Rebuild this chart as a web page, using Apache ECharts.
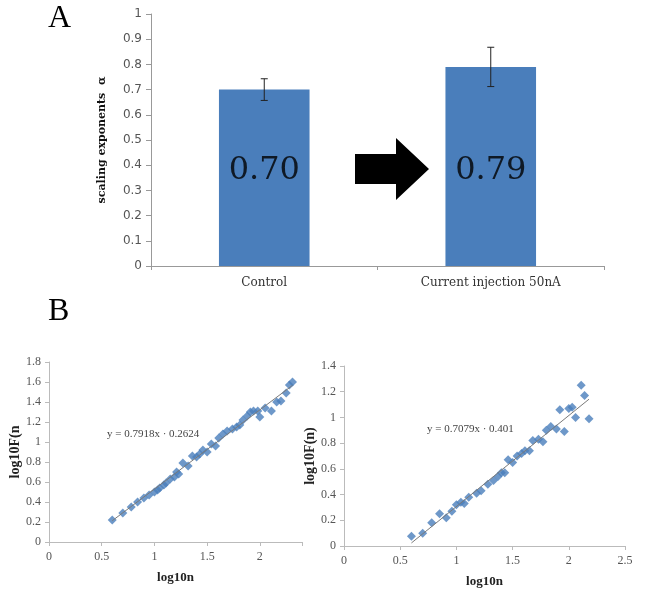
<!DOCTYPE html>
<html>
<head>
<meta charset="utf-8">
<script src="https://cdn.jsdelivr.net/npm/echarts@6/dist/echarts.min.js"></script>
<style>
html, body { margin: 0; padding: 0; background: #fff; }
#main { width: 646px; height: 589px; }
</style>
</head>
<body>
<div id="main"></div>
<script>
// Panel A
const groups = ['Control', 'Current injection 50nA'];
const alphaMean = [0.70, 0.79];
const alphaErr = [0.043, 0.078];

// Panel B, left plot (current injection)
const injLogN = [0.60, 0.70, 0.78, 0.84, 0.90, 0.95, 1.00, 1.03, 1.05, 1.09, 1.11, 1.15, 1.19, 1.21, 1.23,
  1.27, 1.32, 1.36, 1.40, 1.43, 1.46, 1.50, 1.54, 1.58, 1.61, 1.65, 1.69, 1.74, 1.78, 1.81, 1.84,
  1.88, 1.91, 1.94, 1.98, 2.00, 2.05, 2.11, 2.16, 2.20, 2.25, 2.28, 2.31];
const injLogF = [0.22, 0.29, 0.35, 0.40, 0.44, 0.47, 0.50, 0.52, 0.54, 0.57, 0.59, 0.63, 0.65, 0.70, 0.68,
  0.79, 0.76, 0.86, 0.85, 0.88, 0.92, 0.90, 0.98, 0.96, 1.04, 1.08, 1.11, 1.13, 1.15, 1.17, 1.22,
  1.26, 1.30, 1.31, 1.31, 1.25, 1.34, 1.31, 1.40, 1.41, 1.49, 1.57, 1.60];
const injFit = [0.7918, -0.2624];
const injEq = 'y = 0.7918x · 0.2624';

// Panel B, right plot (control)
const ctrlLogN = [0.60, 0.70, 0.78, 0.85, 0.91, 0.96, 1.00, 1.04, 1.07, 1.11, 1.18, 1.22, 1.28, 1.33, 1.37,
  1.40, 1.43, 1.46, 1.50, 1.54, 1.58, 1.61, 1.65, 1.68, 1.73, 1.77, 1.80, 1.84, 1.89, 1.92, 1.96,
  2.00, 2.03, 2.06, 2.11, 2.14, 2.18];
const ctrlLogF = [0.075, 0.10, 0.18, 0.25, 0.22, 0.27, 0.32, 0.34, 0.33, 0.38, 0.41, 0.43, 0.48, 0.51, 0.54,
  0.57, 0.57, 0.67, 0.65, 0.70, 0.72, 0.74, 0.74, 0.82, 0.83, 0.81, 0.90, 0.93, 0.91, 1.06, 0.89,
  1.07, 1.08, 1.00, 1.25, 1.17, 0.99];
const ctrlFit = [0.7079, -0.401];
const ctrlEq = 'y = 0.7079x · 0.401';

const BLUE = '#4a7ebb';
const SERIF = '"Liberation Serif", serif';
const WIDE_SERIF = '"DejaVu Serif", serif';

function pairs(xs, ys) {
  return xs.map((x, i) => [x, ys[i]]);
}

function fitLine(xs, fit) {
  const x0 = Math.min(...xs), x1 = Math.max(...xs);
  return [[x0, fit[0] * x0 + fit[1]], [x1, fit[0] * x1 + fit[1]]];
}

function bAxisX(gridIndex, max, showMax) {
  return {
    type: 'value', gridIndex, min: 0, max, interval: 0.5,
    name: 'log10n', nameLocation: 'middle', nameGap: 29,
    nameTextStyle: { fontFamily: SERIF, fontWeight: 'bold', fontSize: 13, color: '#222' },
    axisLine: { lineStyle: { color: '#bbb' } },
    axisTick: { show: true, length: 4, lineStyle: { color: '#bbb' } },
    axisLabel: {
      fontFamily: SERIF, fontSize: 12, color: '#555', margin: 9,
      formatter: v => (showMax || Math.abs(v / 0.5 - Math.round(v / 0.5)) < 1e-6) ? String(v) : ''
    },
    splitLine: { show: false }
  };
}

function bAxisY(gridIndex, max, title) {
  return {
    type: 'value', gridIndex, min: 0, max, interval: 0.2,
    name: title, nameLocation: 'middle', nameGap: 26, nameRotate: 90,
    nameTextStyle: { fontFamily: SERIF, fontWeight: 'bold', fontSize: 14, color: '#222' },
    axisLine: { show: true, lineStyle: { color: '#bbb' } },
    axisTick: { show: true, length: 4, lineStyle: { color: '#bbb' } },
    axisLabel: { fontFamily: SERIF, fontSize: 12, color: '#555', margin: 8,
      formatter: v => String(Math.round(v * 10) / 10) },
    splitLine: { show: false }
  };
}

const chart = echarts.init(document.getElementById('main'));

const option = {
  backgroundColor: '#fff',
  animation: false,
  grid: [
    { left: 151, top: 14, width: 453, height: 252 },
    { left: 49, top: 362, width: 253, height: 180 },
    { left: 344, top: 366, width: 281, height: 180 }
  ],
  xAxis: [
    {
      type: 'category', gridIndex: 0, data: groups,
      axisLine: { lineStyle: { color: '#999' } },
      axisTick: { show: true, length: 4, lineStyle: { color: '#999' } },
      axisLabel: { fontFamily: WIDE_SERIF, fontSize: 12, color: '#333', margin: 11 }
    },
    bAxisX(1, 2.4, false),
    bAxisX(2, 2.5, true)
  ],
  yAxis: [
    {
      type: 'value', gridIndex: 0, min: 0, max: 1, interval: 0.1,
      name: 'scaling exponents  α', nameLocation: 'middle', nameGap: 43, nameRotate: 90,
      nameTextStyle: { fontFamily: WIDE_SERIF, fontWeight: 'bold', fontSize: 11, color: '#111' },
      axisLine: { show: true, lineStyle: { color: '#999' } },
      axisTick: { show: true, length: 5, lineStyle: { color: '#999' } },
      axisLabel: { fontFamily: '"DejaVu Sans", sans-serif', fontSize: 12, color: '#555', margin: 9,
        formatter: v => String(Math.round(v * 10) / 10) },
      splitLine: { show: false }
    },
    bAxisY(1, 1.8, 'log10F(n'),
    bAxisY(2, 1.4, 'log10F(n)')
  ],
  series: [
    {
      type: 'bar', xAxisIndex: 0, yAxisIndex: 0,
      data: alphaMean, barWidth: '40%',
      itemStyle: { color: BLUE }
    },
    {
      // value labels inside the bars
      type: 'scatter', xAxisIndex: 0, yAxisIndex: 0,
      symbolSize: 0, silent: true, z: 5,
      data: alphaMean.map((v, i) => ({ value: [i, 0.38], text: v.toFixed(2) })),
      label: {
        show: true, position: 'inside', formatter: p => p.data.text,
        fontFamily: WIDE_SERIF, fontSize: 32, color: '#000'
      }
    },
    {
      type: 'custom', xAxisIndex: 0, yAxisIndex: 0, z: 6,
      data: alphaMean.map((m, i) => [i, m, alphaErr[i]]),
      renderItem: function (params, api) {
        const x = api.value(0), m = api.value(1), e = api.value(2);
        const top = api.coord([x, m + e]);
        const bot = api.coord([x, m - e]);
        const w = 3.5;
        const st = { stroke: '#222', lineWidth: 1 };
        return {
          type: 'group',
          children: [
            { type: 'line', shape: { x1: top[0], y1: top[1], x2: bot[0], y2: bot[1] }, style: st },
            { type: 'line', shape: { x1: top[0] - w, y1: top[1], x2: top[0] + w, y2: top[1] }, style: st },
            { type: 'line', shape: { x1: bot[0] - w, y1: bot[1], x2: bot[0] + w, y2: bot[1] }, style: st }
          ]
        };
      }
    },
    {
      type: 'scatter', xAxisIndex: 1, yAxisIndex: 1,
      symbol: 'diamond', symbolSize: 9,
      itemStyle: { color: BLUE },
      data: pairs(injLogN, injLogF)
    },
    {
      type: 'line', xAxisIndex: 1, yAxisIndex: 1, z: 4,
      symbol: 'none', lineStyle: { color: '#7a7a7a', width: 1 },
      data: fitLine(injLogN, injFit)
    },
    {
      type: 'scatter', xAxisIndex: 2, yAxisIndex: 2,
      symbol: 'diamond', symbolSize: 9,
      itemStyle: { color: BLUE },
      data: pairs(ctrlLogN, ctrlLogF)
    },
    {
      type: 'line', xAxisIndex: 2, yAxisIndex: 2, z: 4,
      symbol: 'none', lineStyle: { color: '#7a7a7a', width: 1 },
      data: fitLine(ctrlLogN, ctrlFit)
    }
  ],
  graphic: [
    { type: 'text', x: 48, y: 19, style: { text: 'A', font: '32px ' + SERIF, fill: '#000', textVerticalAlign: 'middle' } },
    { type: 'text', x: 48, y: 312, style: { text: 'B', font: '32px ' + SERIF, fill: '#000', textVerticalAlign: 'middle' } },
    {
      // arrow between the bars
      type: 'polygon',
      shape: { points: [[355, 154], [396, 154], [396, 138], [429, 169], [396, 200], [396, 184], [355, 184]] },
      style: { fill: '#000' }
    },
    { type: 'text', x: 107, y: 434, style: { text: injEq, font: '11px ' + SERIF, fill: '#444', textVerticalAlign: 'middle' } },
    { type: 'text', x: 427, y: 429, style: { text: ctrlEq, font: '11px ' + SERIF, fill: '#444', textVerticalAlign: 'middle' } }
  ]
};

chart.setOption(option);
</script>
</body>
</html>
